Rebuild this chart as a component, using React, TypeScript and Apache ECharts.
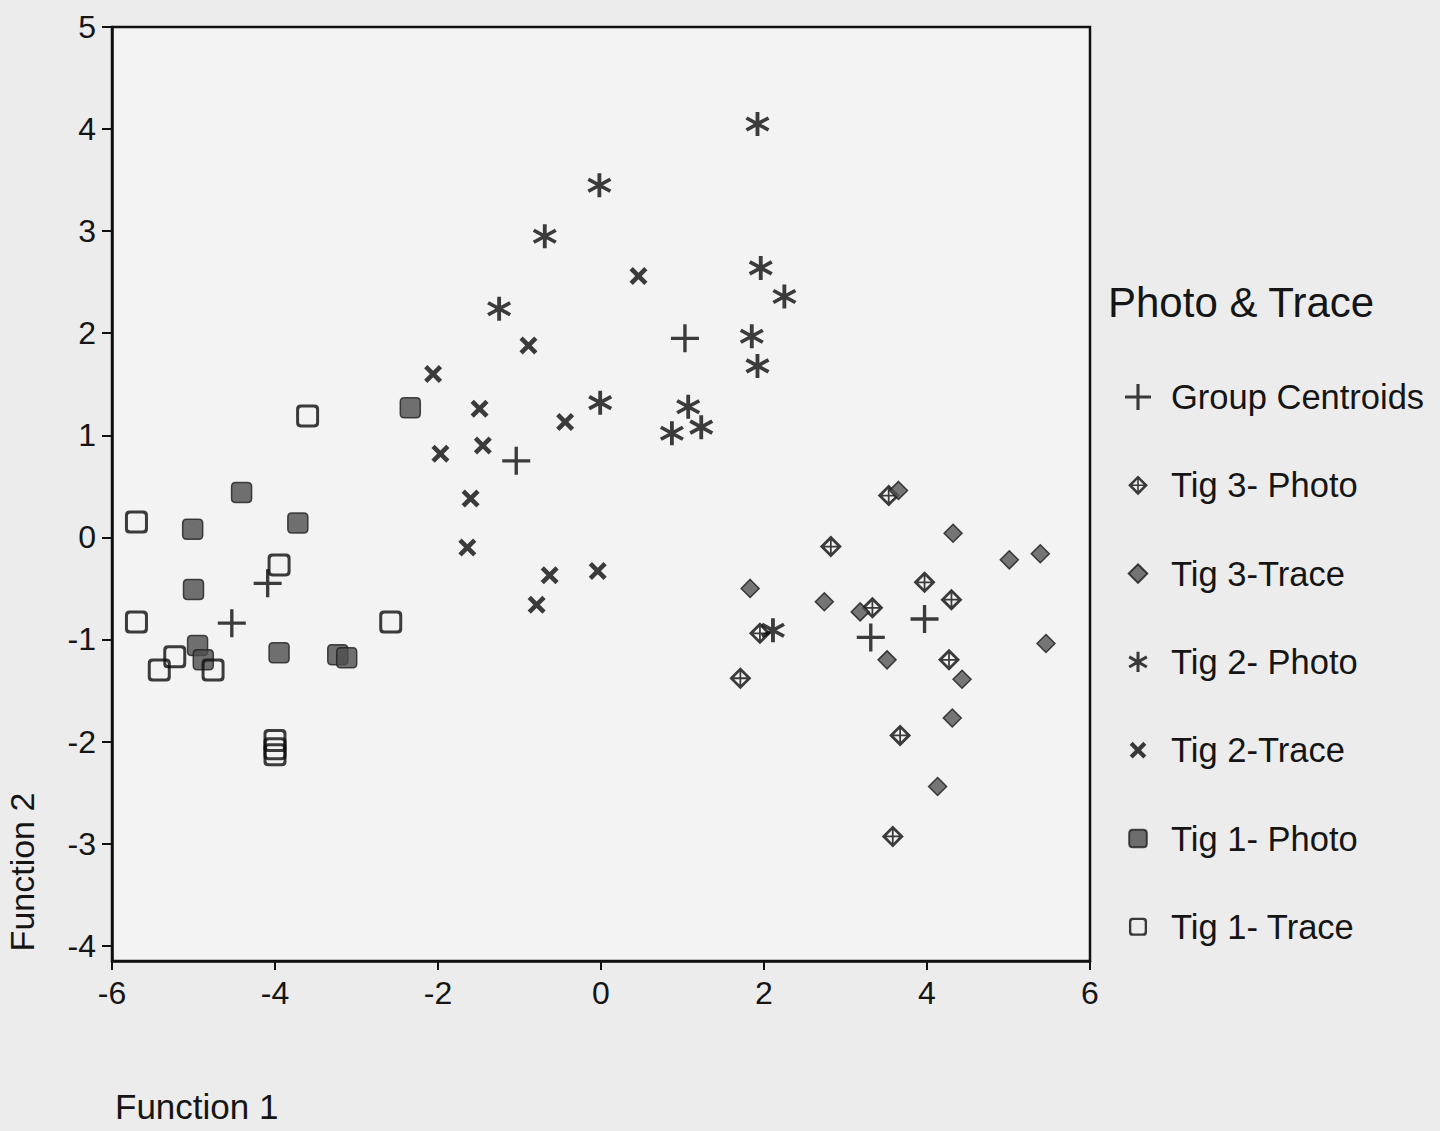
import React, { useEffect, useRef } from "react";
import * as echarts from "echarts";

const FONT = '"Liberation Sans", Arial, Helvetica, sans-serif';
const INK = "#151515";
const MARK = "#0c0c0c";

// axis ticks
const xTicks = [-6, -4, -2, 0, 2, 4, 6];
const yTicks = [-4, -3, -2, -1, 0, 1, 2, 3, 4, 5];

// legend / series names
const seriesNames = [
  "Group Centroids",
  "Tig 3- Photo",
  "Tig 3-Trace",
  "Tig 2- Photo",
  "Tig 2-Trace",
  "Tig 1- Photo",
  "Tig 1- Trace",
];

// [Function 1, Function 2]
const groupCentroids = [
  [-4.09, -0.45], [-4.53, -0.84], [-1.04, 0.75], [1.03, 1.95], [3.31, -0.98], [3.97, -0.8],
];
const tig3Photo = [
  [3.53, 0.41], [2.82, -0.09], [3.97, -0.44], [4.3, -0.61], [3.33, -0.69],
  [1.95, -0.94], [4.27, -1.2], [1.71, -1.38], [3.67, -1.94], [3.58, -2.93],
];
const tig3Trace = [
  [3.65, 0.46], [4.32, 0.04], [5.01, -0.22], [5.39, -0.16], [1.83, -0.5], [2.74, -0.63],
  [3.18, -0.73], [3.51, -1.2], [5.46, -1.04], [4.43, -1.39], [4.31, -1.77], [4.13, -2.44],
];
const tig2Photo = [
  [1.92, 4.05], [-0.02, 3.45], [-0.69, 2.95], [-1.25, 2.24], [1.96, 2.64], [2.25, 2.36],
  [1.85, 1.97], [1.92, 1.68], [-0.01, 1.32], [1.07, 1.28], [0.87, 1.02], [1.23, 1.08], [2.11, -0.91],
];
const tig2Trace = [
  [0.46, 2.56], [-0.89, 1.88], [-2.06, 1.6], [-1.49, 1.26], [-0.44, 1.13], [-1.45, 0.9],
  [-1.97, 0.82], [-1.6, 0.38], [-1.64, -0.1], [-0.63, -0.37], [-0.04, -0.33], [-0.79, -0.66],
];
const tig1Photo = [
  [-2.34, 1.27], [-4.41, 0.44], [-5.01, 0.08], [-3.72, 0.14], [-5.0, -0.51],
  [-4.95, -1.06], [-4.88, -1.2], [-3.95, -1.13], [-3.23, -1.15], [-3.12, -1.18],
];
const tig1Trace = [
  [-3.6, 1.19], [-5.7, 0.15], [-3.95, -0.27], [-5.7, -0.83], [-2.58, -0.83], [-5.23, -1.17],
  [-5.42, -1.3], [-4.76, -1.3], [-4.0, -1.99], [-4.0, -2.07], [-4.0, -2.13],
];

// symbol shapes (0..100 box)
const PLUS = "M44,0 H56 V44 H100 V56 H56 V100 H44 V56 H0 V44 H44 Z";
const XMARK =
  "M0,18 L18,0 L50,32 L82,0 L100,18 L68,50 L100,82 L82,100 L50,68 L18,100 L0,82 L32,50 Z";
const ASTER =
  "M42.5,100 L57.5,100 L57.5,0 L42.5,0 Z " +
  "M89.55,81.5 L97.05,68.5 L10.45,18.5 L2.95,31.5 Z " +
  "M2.95,68.5 L10.45,81.5 L97.05,31.5 L89.55,18.5 Z";
const DIAMOND_CROSS =
  "M50,0 L100,50 L50,100 L0,50 Z " +
  "M54,22 L54,46 L78,46 Z " +
  "M46,22 L22,46 L46,46 Z " +
  "M54,78 L78,54 L54,54 Z " +
  "M46,78 L46,54 L22,54 Z";
const DIAMOND = "M50,0 L100,50 L50,100 L0,50 Z";
const RSQUARE = "M20,0 H80 Q100,0 100,20 V80 Q100,100 80,100 H20 Q0,100 0,80 V20 Q0,0 20,0 Z";
const RSQUARE_OPEN =
  RSQUARE + " M24,13 Q13,13 13,24 V76 Q13,87 24,87 H76 Q87,87 87,76 V24 Q87,13 76,13 Z";

const sym = (d: string) => "path://" + d;
const padIcon = (d: string, p: number) => `path://${d} M${-p},${-p} M${100 + p},${100 + p}`;

export default function App() {
  const ref = useRef<HTMLDivElement>(null);

  useEffect(() => {
    if (!ref.current) return;
    const chart = echarts.init(ref.current, undefined, { renderer: "svg" });

    const base = {
      type: "scatter",
      silent: true,
      emphasis: { disabled: true },
    };

    const option: any = {
      animation: false,
      backgroundColor: "#ececec",
      title: {
        text: "Photo & Trace",
        left: 1108,
        top: 281,
        padding: 0,
        textStyle: { fontFamily: FONT, fontSize: 42, fontWeight: "normal", color: INK },
      },
      legend: {
        orient: "vertical",
        left: 1119,
        top: 374,
        itemWidth: 56,
        itemHeight: 26,
        itemGap: 52.3,
        selectedMode: false,
        textStyle: { fontFamily: FONT, fontSize: 34.5, lineHeight: 36, color: INK },
        data: [
          { name: seriesNames[0], icon: sym(PLUS) },
          { name: seriesNames[1], icon: padIcon(DIAMOND_CROSS, 16) },
          { name: seriesNames[2], icon: padIcon(DIAMOND, 20) },
          { name: seriesNames[3], icon: padIcon(ASTER, 14) },
          { name: seriesNames[4], icon: padIcon(XMARK, 28) },
          { name: seriesNames[5], icon: padIcon(RSQUARE, 24) },
          { name: seriesNames[6], icon: padIcon(RSQUARE_OPEN, 22) },
        ],
      },
      grid: {
        left: 112,
        right: 350,
        top: 27,
        bottom: 170,
        show: true,
        backgroundColor: "#f3f3f3",
        borderColor: "#111",
        borderWidth: 2.5,
      },
      xAxis: {
        type: "value",
        min: -6,
        max: 6,
        interval: 2,
        axisLine: { show: true, onZero: false, lineStyle: { color: "#111", width: 2.5 } },
        axisTick: { show: true, length: 9, customValues: xTicks, lineStyle: { color: "#111", width: 2 } },
        axisLabel: { fontFamily: FONT, fontSize: 32, color: INK, margin: 16, customValues: xTicks },
        splitLine: { show: false },
      },
      yAxis: {
        type: "value",
        min: -4.15,
        max: 5,
        axisLine: { show: true, onZero: false, lineStyle: { color: "#111", width: 2.5 } },
        axisTick: {
          show: true,
          length: 10,
          customValues: yTicks,
          lineStyle: { color: "#111", width: 2 },
        },
        axisLabel: {
          fontFamily: FONT,
          fontSize: 32,
          color: INK,
          margin: 16,
          customValues: yTicks,
          showMinLabel: true,
          showMaxLabel: true,
        },
        splitLine: { show: false },
      },
      graphic: [
        {
          type: "text",
          left: 115,
          top: 1089,
          style: { text: "Function 1", fontFamily: FONT, fontSize: 35, fill: INK },
        },
        {
          type: "text",
          x: 22,
          y: 872,
          rotation: Math.PI / 2,
          style: {
            text: "Function 2",
            fontFamily: FONT,
            fontSize: 34,
            fill: INK,
            align: "center",
            verticalAlign: "middle",
          },
        },
      ],
      series: [
        {
          ...base,
          name: seriesNames[0],
          symbol: sym(PLUS),
          symbolSize: 28,
          itemStyle: { color: MARK },
          data: groupCentroids,
          z: 8,
        },
        {
          ...base,
          name: seriesNames[1],
          symbol: sym(DIAMOND_CROSS),
          symbolSize: 22,
          itemStyle: { color: MARK },
          data: tig3Photo,
        },
        {
          ...base,
          name: seriesNames[2],
          symbol: sym(DIAMOND),
          symbolSize: 18,
          itemStyle: { color: "#555555", borderColor: "#1a1a1a", borderWidth: 1.5 },
          data: tig3Trace,
        },
        {
          ...base,
          name: seriesNames[3],
          symbol: sym(ASTER),
          symbolSize: 24,
          itemStyle: { color: MARK },
          data: tig2Photo,
        },
        {
          ...base,
          name: seriesNames[4],
          symbol: sym(XMARK),
          symbolSize: 18,
          itemStyle: { color: MARK },
          data: tig2Trace,
        },
        {
          ...base,
          name: seriesNames[5],
          symbol: sym(RSQUARE),
          symbolSize: 20,
          itemStyle: { color: "#4e4e4e", borderColor: "#1e1e1e", borderWidth: 1.5 },
          data: tig1Photo,
        },
        {
          ...base,
          name: seriesNames[6],
          symbol: sym(RSQUARE_OPEN),
          symbolSize: 23,
          itemStyle: { color: MARK },
          data: tig1Trace,
        },
      ],
    };

    chart.setOption(option);
    return () => chart.dispose();
  }, []);

  return (
    <div
      ref={ref}
      style={{ position: "fixed", left: 0, top: 0, width: "1440px", height: "1131px" }}
    />
  );
}
